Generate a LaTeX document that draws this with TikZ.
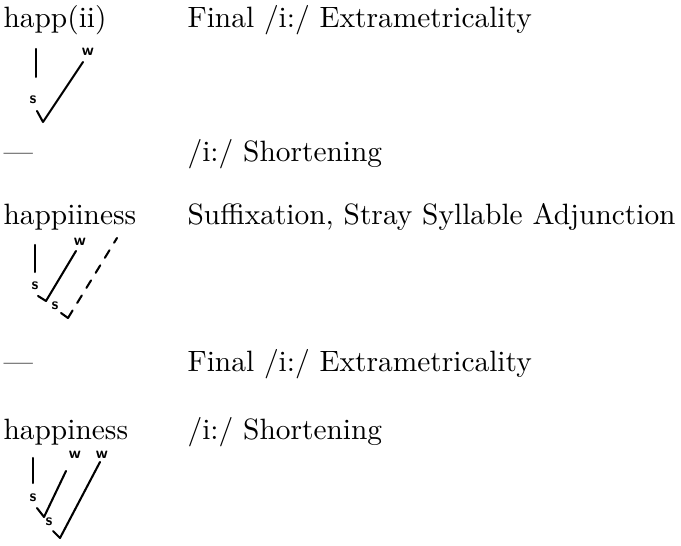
\documentclass[tikz,border=0pt]{standalone}
\begin{document}
\begin{tikzpicture}[x=0.34pt,y=-0.34pt,
  txt/.style={anchor=base west,inner sep=0pt,font=\fontsize{10}{12}\selectfont},
  lab/.style={inner sep=0pt,font=\fontsize{5.5}{6}\selectfont\bfseries\sffamily},
  stroke/.style={line width=0.7pt,line cap=round,line join=round}]
\useasboundingbox (0,0) rectangle (681,546);
% row 1
\node[txt] (r1l) at (3,28) {happ(ii)};
\node[txt] (r1r) at (187,28) {Final /i:/ Extrametricality};
\coordinate (b1t) at (36,49); \coordinate (b1b) at (36,77);
\draw[stroke] (b1t) -- (b1b);
\node[lab] (w1) at (88,52) {w};
\node[lab] (s1) at (33,100) {s};
\coordinate (v1) at (43,122);
\coordinate (e1) at (83,62);
\coordinate (t1) at (37,111);
\draw[stroke] (t1) -- (v1) -- (e1);
% row 2
\node[txt] (r2l) at (3,162) {---};
\node[txt] (r2r) at (187,162) {/i:/ Shortening};
% row 3
\node[txt] (r3l) at (3,225) {happiiness};
\node[txt] (r3r) at (187,225) {Suffixation, Stray Syllable Adjunction};
\draw[stroke] (35,245) -- (35,272);
\node[lab] (w2) at (80,242) {w};
\node[lab] (s2a) at (35,286) {s};
\node[lab] (s2b) at (55,306) {s};
\coordinate (v2a) at (46,301);
\coordinate (e2a) at (76,251);
\coordinate (t2a) at (38,296);
\coordinate (v2b) at (68,318);
\coordinate (e2b) at (117,238);
\coordinate (t2b) at (61,313);
\draw[stroke] (t2a) -- (v2a) -- (e2a);
\draw[stroke,dashed] (v2b) -- (e2b);
\draw[stroke] (t2b) -- (v2b);
% row 4
\node[txt] (r4l) at (3,372) {---};
\node[txt] (r4r) at (187,372) {Final /i:/ Extrametricality};
% row 5
\node[txt] (r5l) at (3,440) {happiness};
\node[txt] (r5r) at (187,440) {/i:/ Shortening};
\draw[stroke] (33,458) -- (33,483);
\node[lab] (w3a) at (75,455) {w};
\node[lab] (w3b) at (102,455) {w};
\node[lab] (s3a) at (33,498) {s};
\node[lab] (s3b) at (49,522) {s};
\coordinate (v3a) at (44,517);
\coordinate (e3a) at (66,471);
\coordinate (t3a) at (37,508);
\coordinate (v3b) at (60,538);
\coordinate (e3b) at (100,462);
\coordinate (t3b) at (53,531);
\draw[stroke] (t3a) -- (v3a) -- (e3a);
\draw[stroke] (t3b) -- (v3b) -- (e3b);
\end{tikzpicture}
\end{document}
